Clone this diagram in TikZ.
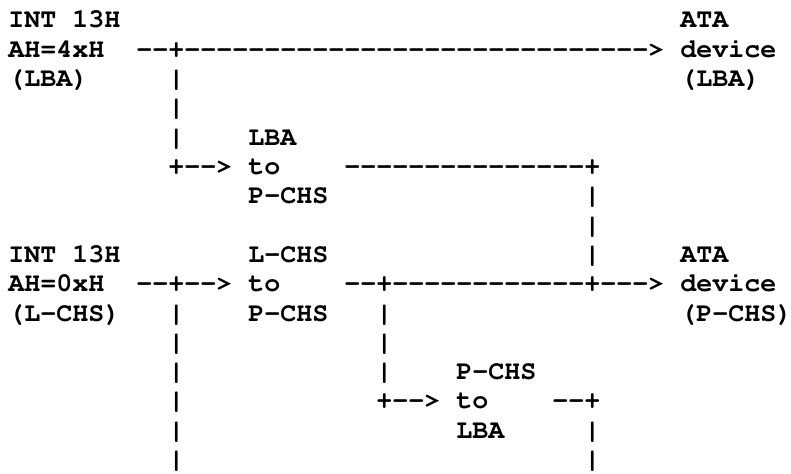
\documentclass[tikz,border=0pt]{standalone}
\usepackage[T1]{fontenc}
\usepackage{courier}
\newcommand\hyph[1]{\foreach\k in {1,...,#1}{-}}
\tikzset{
  txt/.style={anchor=base west, inner sep=0pt, outer sep=0pt,
    font=\fontsize{26.67pt}{29.3pt}\selectfont\ttfamily\bfseries}
}
\begin{document}
\begin{tikzpicture}
\fill[white] (0,0) rectangle (791pt,-473pt);
\useasboundingbox (0,0) rectangle (791pt,-473pt);
\begin{scope}[shift={(8.4pt,-28pt)}, x=16pt, y=-29.3pt]
% row 1
\node[txt] (int1) at (0,0) {INT 13H};
\node[txt] (ata1) at (42,0) {ATA};
% row 2
\node[txt] (ah4) at (0,1) {AH=4xH};
\node[txt] (c1) at (8,1) {\hyph{2}+\hyph{29}>};
\node[txt] (dev1) at (42,1) {device};
% row 3
\node[txt] (lbaL) at (0,2) {(LBA)};
\node[txt] (v3a) at (10,2) {|};
\node[txt] (lbaR) at (42,2) {(LBA)};
% row 4
\node[txt] (v4a) at (10,3) {|};
% row 5
\node[txt] (v5a) at (10,4) {|};
\node[txt] (lp1) at (15,4) {LBA};
% row 6
\node[txt] (c2) at (10,5) {+\hyph{2}>};
\node[txt] (lp2) at (15,5) {to};
\node[txt] (c3) at (21,5) {\hyph{15}+};
% row 7
\node[txt] (lp3) at (15,6) {P-CHS};
\node[txt] (v7b) at (36,6) {|};
% row 8
\node[txt] (v8b) at (36,7) {|};
% row 9
\node[txt] (int2) at (0,8) {INT 13H};
\node[txt] (lc1) at (15,8) {L-CHS};
\node[txt] (v9b) at (36,8) {|};
\node[txt] (ata2) at (42,8) {ATA};
% row 10
\node[txt] (ah0) at (0,9) {AH=0xH};
\node[txt] (c4) at (8,9) {\hyph{2}+\hyph{2}>};
\node[txt] (lc2) at (15,9) {to};
\node[txt] (c5) at (21,9) {\hyph{2}+\hyph{12}+\hyph{3}>};
\node[txt] (dev2) at (42,9) {device};
% row 11
\node[txt] (lchs) at (0,10) {(L-CHS)};
\node[txt] (v11a) at (10,10) {|};
\node[txt] (lc3) at (15,10) {P-CHS};
\node[txt] (v11c) at (23,10) {|};
\node[txt] (pchs) at (42,10) {(P-CHS)};
% row 12
\node[txt] (v12a) at (10,11) {|};
\node[txt] (v12c) at (23,11) {|};
% row 13
\node[txt] (v13a) at (10,12) {|};
\node[txt] (v13c) at (23,12) {|};
\node[txt] (pl1) at (28,12) {P-CHS};
% row 14
\node[txt] (v14a) at (10,13) {|};
\node[txt] (c6) at (23,13) {+\hyph{2}>};
\node[txt] (pl2) at (28,13) {to};
\node[txt] (c7) at (34,13) {\hyph{2}+};
% row 15
\node[txt] (v15a) at (10,14) {|};
\node[txt] (pl3) at (28,14) {LBA};
\node[txt] (v15b) at (36,14) {|};
% row 16
\node[txt] (v16a) at (10,15) {|};
\node[txt] (v16b) at (36,15) {|};
\end{scope}
\end{tikzpicture}
\end{document}
